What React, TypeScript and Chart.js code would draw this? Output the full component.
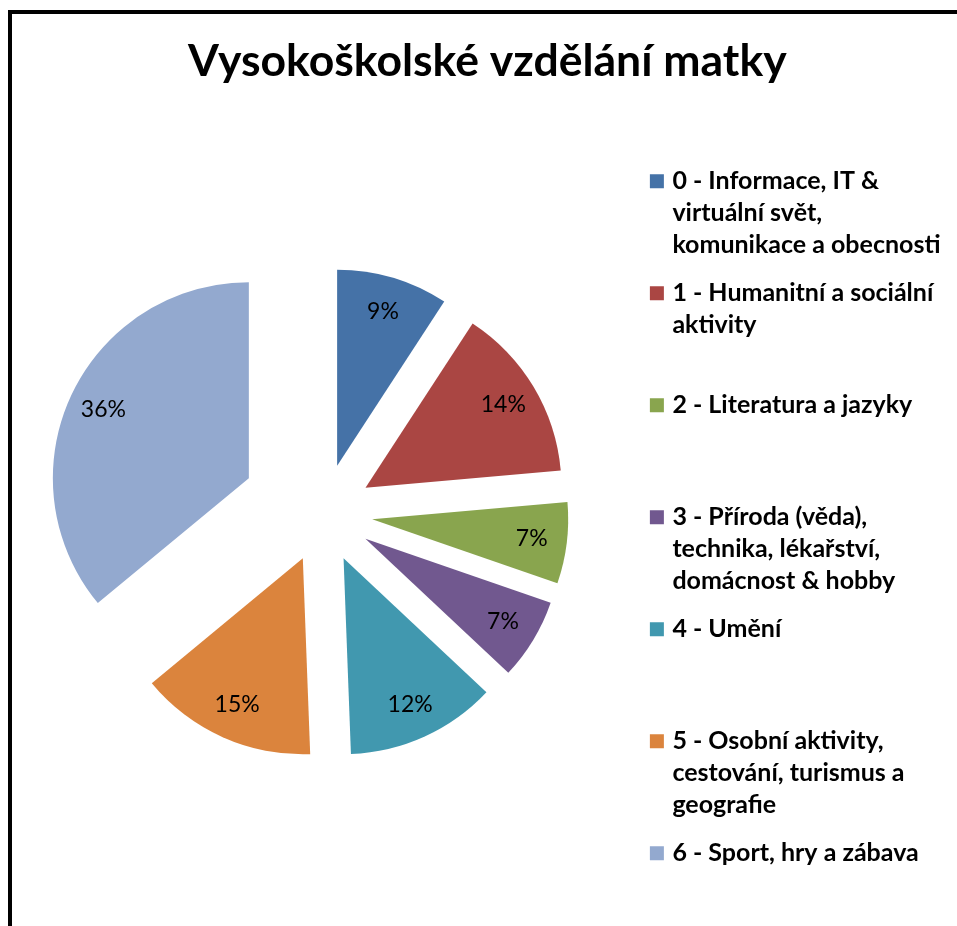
import React, { useEffect, useRef } from 'react';
import { Chart, registerables } from 'chart.js';

Chart.register(...registerables);

// ---- data ----
const TITLE = 'Vysokoškolské vzdělání matky';
const CATEGORIES: string[][] = [
  ['0 - Informace, IT &', 'virtuální svět,', 'komunikace a obecnosti'],
  ['1 - Humanitní a sociální', 'aktivity'],
  ['2 - Literatura a jazyky'],
  ['3 - Příroda (věda),', 'technika, lékařství,', 'domácnost & hobby'],
  ['4 - Umění'],
  ['5 - Osobní aktivity,', 'cestování, turismus a', 'geografie'],
  ['6 - Sport, hry a zábava'],
];
const SHARES = [9.2, 14.4, 6.7, 6.7, 12.4, 14.6, 36.0];

// ---- style ----
const COLORS = ['#4572A7', '#AA4643', '#89A54E', '#71588F', '#4198AF', '#DB843D', '#93A9CF'];
const EXPLODE = [49.5, 49.5, 49.5, 49.5, 49.5, 49.5, 82];
const FONT = 'Lato, "Open Sans", sans-serif';
const W = 945;
const H = 912;

// legend text: real lines separated by blank half-lines (line height 16 → 32px between lines)
const legendText = (lines: string[], last: boolean) => {
  const out: string[] = [];
  lines.forEach((l, k) => {
    if (k) out.push('');
    out.push(l);
  });
  const n = last ? 2 : 5;
  while (out.length < n) out.push('');
  return out;
};

const explodedPie = {
  id: 'explodedPie',
  beforeDatasetDraw(chart: any, args: any) {
    const ctx = chart.ctx;
    args.meta.data.forEach((arc: any, i: number) => {
      const { x, y, startAngle, endAngle, outerRadius } = arc.getProps(
        ['x', 'y', 'startAngle', 'endAngle', 'outerRadius'],
        true
      );
      const mid = (startAngle + endAngle) / 2;
      const d = EXPLODE[i] || 0;
      const cx = x + Math.cos(mid) * d;
      const cy = y + Math.sin(mid) * d;
      ctx.save();
      ctx.beginPath();
      ctx.moveTo(cx, cy);
      ctx.arc(cx, cy, outerRadius, startAngle, endAngle);
      ctx.closePath();
      ctx.fillStyle = arc.options.backgroundColor;
      ctx.fill();
      ctx.restore();
    });
    return false;
  },
  afterDatasetsDraw(chart: any) {
    const ctx = chart.ctx;
    const meta = chart.getDatasetMeta(0);
    const values: number[] = chart.data.datasets[0].data;
    const total = values.reduce((a, b) => a + b, 0);
    ctx.save();
    ctx.font = `23px ${FONT}`;
    ctx.fillStyle = '#000';
    ctx.textAlign = 'center';
    ctx.textBaseline = 'middle';
    meta.data.forEach((arc: any, i: number) => {
      const { x, y, startAngle, endAngle, outerRadius } = arc.getProps(
        ['x', 'y', 'startAngle', 'endAngle', 'outerRadius'],
        true
      );
      const mid = (startAngle + endAngle) / 2;
      const dist = (EXPLODE[i] || 0) + outerRadius * 0.82;
      const lx = x + Math.cos(mid) * dist;
      const ly = y + Math.sin(mid) * dist;
      ctx.fillText(`${Math.round((values[i] / total) * 100)}%`, lx, ly);
    });
    ctx.restore();
  },
};

export default function App() {
  const ref = useRef<HTMLCanvasElement | null>(null);

  useEffect(() => {
    let chart: Chart | null = null;
    let cancelled = false;
    const make = () => {
      if (cancelled || !ref.current) return;
      chart = new Chart(ref.current, {
        type: 'pie',
        data: {
          labels: CATEGORIES.map((c) => c.join(' ')),
          datasets: [
            {
              data: SHARES,
              backgroundColor: COLORS,
              borderWidth: 0,
              radius: 196,
            } as any,
          ],
        },
        options: {
          responsive: false,
          animation: false,
          events: [],
          layout: { padding: { left: 12.2, right: 6.5, top: 0, bottom: 21.3 } },
          plugins: {
            title: {
              display: true,
              text: TITLE,
              color: '#000',
              font: { family: FONT, weight: 'bold', size: 44.5, lineHeight: 1.2 },
              padding: { top: 20.5, bottom: 33.6 },
            },
            legend: {
              display: true,
              position: 'right',
              align: 'end',
              labels: {
                boxWidth: 6,
                boxHeight: 6,
                padding: 32,
                color: '#000',
                font: { family: FONT, weight: 'bold', size: 25, lineHeight: '16px' },
                generateLabels: () =>
                  CATEGORIES.map((lines, i) => ({
                    text: legendText(lines, i === CATEGORIES.length - 1),
                    fillStyle: COLORS[i],
                    strokeStyle: COLORS[i],
                    lineWidth: 8,
                    lineJoin: 'miter',
                    hidden: false,
                    index: i,
                  })) as any,
              },
            },
            tooltip: { enabled: false },
          },
        } as any,
        plugins: [explodedPie],
      });
    };
    const fonts: any = (document as any).fonts;
    if (fonts && fonts.load) {
      Promise.all([
        fonts.load(`bold 44px Lato`),
        fonts.load(`23px Lato`),
      ]).then(make, make);
    } else {
      make();
    }
    return () => {
      cancelled = true;
      if (chart) chart.destroy();
    };
  }, []);

  return (
    <div style={{ position: 'fixed', left: 0, top: 0, width: 957, height: 926, overflow: 'hidden', background: '#fff' }}>
      <div
        style={{
          position: 'absolute',
          left: 8,
          top: 10,
          width: 1200,
          height: 1200,
          borderLeft: '4px solid #000',
          borderTop: '4px solid #000',
        }}
      />
      <canvas
        ref={ref}
        width={W}
        height={H}
        style={{ position: 'absolute', left: 12, top: 14, width: W, height: H }}
      />
    </div>
  );
}
